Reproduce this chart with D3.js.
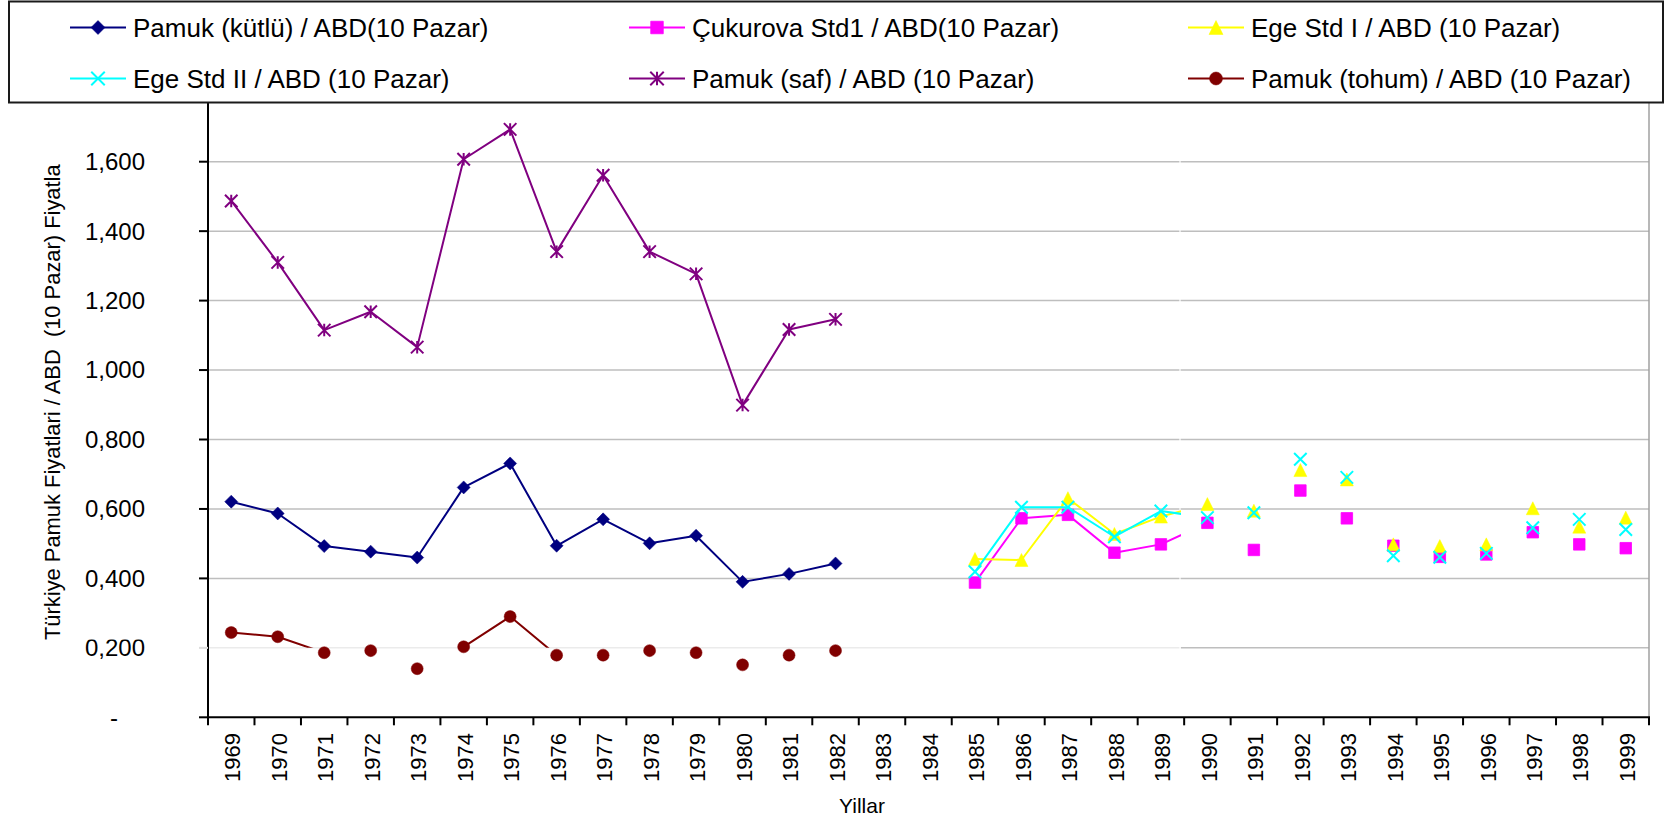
<!DOCTYPE html>
<html>
<head>
<meta charset="utf-8">
<script src="https://cdn.jsdelivr.net/npm/d3@7"></script>
<style>
  html, body { margin: 0; padding: 0; background: #fff; }
  svg { display: block; font-family: "Liberation Sans", Arial, sans-serif; }
  .keep-spaces { white-space: pre; }
</style>
</head>
<body>
<svg id="chart" width="1669" height="821"></svg>
<script>
// Years on the category axis
const years = ["1969","1970","1971","1972","1973","1974","1975","1976","1977","1978",
  "1979","1980","1981","1982","1983","1984","1985","1986","1987","1988","1989",
  "1990","1991","1992","1993","1994","1995","1996","1997","1998","1999"];

// Price ratios: Turkish cotton prices / USA (10 markets)
const pamukKutlu = [0.621,0.587,0.493,0.477,0.460,0.662,0.731,0.494,0.570,0.501,0.523,0.390,0.413,0.443,
  null,null,null,null,null,null,null,null,null,null,null,null,null,null,null,null,null];
const cukurovaStd1 = [null,null,null,null,null,null,null,null,null,null,null,null,null,null,null,null,
  0.388,0.573,0.583,0.474,0.498,0.560,0.482,0.653,0.573,0.494,0.462,0.469,0.533,0.498,0.487];
const egeStdI = [null,null,null,null,null,null,null,null,null,null,null,null,null,null,null,null,
  0.456,0.453,0.631,0.528,0.578,0.614,0.595,0.712,0.685,0.498,0.493,0.498,0.602,0.549,0.575];
const egeStdII = [null,null,null,null,null,null,null,null,null,null,null,null,null,null,null,null,
  0.419,0.605,0.605,0.520,0.594,0.575,0.589,0.743,0.691,0.465,0.461,0.472,0.546,0.570,0.541];
const pamukSaf = [1.487,1.310,1.115,1.168,1.066,1.607,1.693,1.341,1.561,1.341,1.277,0.899,1.117,1.146,
  null,null,null,null,null,null,null,null,null,null,null,null,null,null,null,null,null];
const pamukTohum = [0.244,0.232,0.186,0.192,0.140,0.203,0.290,0.179,0.179,0.192,0.186,0.151,0.179,0.192,
  null,null,null,null,null,null,null,null,null,null,null,null,null,null,null,null,null];

// Value axis ticks and their labels
const yTickValues = [0, 0.2, 0.4, 0.6, 0.8, 1.0, 1.2, 1.4, 1.6];
const yTickLabels = ["-", "0,200", "0,400", "0,600", "0,800", "1,000", "1,200", "1,400", "1,600"];

const seriesNames = [
  "Pamuk (kütlü) / ABD(10 Pazar)",
  "Çukurova Std1 / ABD(10 Pazar)",
  "Ege Std I / ABD (10 Pazar)",
  "Ege Std II / ABD (10 Pazar)",
  "Pamuk (saf) / ABD (10 Pazar)",
  "Pamuk (tohum) / ABD (10 Pazar)"
];

const series = [
  { name: seriesNames[0], values: pamukKutlu,   color: "#000080", marker: "diamond" },
  { name: seriesNames[1], values: cukurovaStd1, color: "#FF00FF", marker: "square" },
  { name: seriesNames[2], values: egeStdI,      color: "#FFFF00", marker: "triangle" },
  { name: seriesNames[3], values: egeStdII,     color: "#00FFFF", marker: "x" },
  { name: seriesNames[4], values: pamukSaf,     color: "#800080", marker: "star" },
  { name: seriesNames[5], values: pamukTohum,   color: "#800000", marker: "circle" }
];

const svg = d3.select("#chart");
const W = 1669, H = 821;
svg.append("rect").attr("width", W).attr("height", H).attr("fill", "#fff");

// Plot area
const plot = { left: 208, right: 1649, top: 103, bottom: 717.3 };
const splitX = 1181;   // series lines are drawn only left of this

const x = d3.scaleBand().domain(years).range([plot.left, plot.right]).padding(0);
const cx = yr => x(yr) + x.bandwidth() / 2;
const y = d3.scaleLinear().domain([0, 1.6]).range([plot.bottom, 161.7]);

// Horizontal gridlines
const grid = svg.append("g");
yTickValues.filter(v => v > 0).forEach(v => {
  if (Math.abs(v - 0.2) < 1e-9) {
    grid.append("line").attr("x1", plot.left - 9).attr("x2", splitX)
      .attr("y1", y(v)).attr("y2", y(v)).attr("stroke", "#ebebeb").attr("stroke-width", 1.5);
    grid.append("line").attr("x1", splitX).attr("x2", plot.right)
      .attr("y1", y(v)).attr("y2", y(v)).attr("stroke", "#bebebe").attr("stroke-width", 1.5);
  } else {
    grid.append("line").attr("x1", plot.left).attr("x2", plot.right)
      .attr("y1", y(v)).attr("y2", y(v)).attr("stroke", "#bebebe").attr("stroke-width", 1.5);
  }
});
// thin seam in the gridlines
grid.append("line").attr("x1", splitX - 1).attr("x2", splitX - 1)
  .attr("y1", plot.top + 2).attr("y2", plot.bottom - 2)
  .attr("stroke", "#fff").attr("stroke-width", 1.2);

// Right border of the plot area
svg.append("line").attr("x1", plot.right).attr("x2", plot.right)
  .attr("y1", plot.top).attr("y2", plot.bottom + 1)
  .attr("stroke", "#a0a0a0").attr("stroke-width", 1.5);

// Clip for the connecting lines
const defs = svg.append("defs");
defs.append("clipPath").attr("id", "lineClip").append("rect")
  .attr("x", plot.left).attr("y", plot.top)
  .attr("width", splitX - plot.left).attr("height", y(0.2) - plot.top);

// Marker shapes
function markerPath(type, s) {
  const h = s / 2;
  switch (type) {
    case "diamond": return `M0,${-h}L${h},0L0,${h}L${-h},0Z`;
    case "square": return `M${-h},${-h}H${h}V${h}H${-h}Z`;
    case "triangle": return `M0,${-h}L${h},${h}L${-h},${h}Z`;
    case "x": return `M${-h},${-h}L${h},${h}M${-h},${h}L${h},${-h}`;
    case "star": return `M${-h},${-h}L${h},${h}M${-h},${h}L${h},${-h}M0,${-h}V${h}`;
    case "circle": return d3.symbol(d3.symbolCircle, Math.PI * h * h)();
  }
}
function drawMarker(g, type, color, px, py, s) {
  const filled = !(type === "x" || type === "star");
  g.append("path").attr("d", markerPath(type, s))
    .attr("transform", `translate(${px},${py})`)
    .attr("fill", filled ? color : "none")
    .attr("stroke", color)
    .attr("stroke-width", filled ? (type === "square" ? 0.8 : 0.5) : 2);
}
const markerSize = { diamond: 13, square: 11.5, triangle: 13, x: 12.5, star: 12.5, circle: 12 };

const lineGen = d3.line()
  .defined(d => d.v != null)
  .x(d => cx(d.year))
  .y(d => y(d.v));

const seriesG = svg.append("g");
series.forEach(s => {
  const pts = years.map((yr, i) => ({ year: yr, v: s.values[i] }));
  const g = seriesG.append("g");
  g.append("path").datum(pts)
    .attr("d", lineGen)
    .attr("fill", "none")
    .attr("stroke", s.color)
    .attr("stroke-width", 2)
    .attr("stroke-linejoin", "round")
    .attr("clip-path", "url(#lineClip)");
  pts.filter(d => d.v != null).forEach(d => {
    drawMarker(g, s.marker, s.color, cx(d.year), y(d.v), markerSize[s.marker]);
  });
});

// Value axis
const yAxisG = svg.append("g");
yAxisG.append("line").attr("x1", plot.left).attr("x2", plot.left)
  .attr("y1", plot.top).attr("y2", plot.bottom + 1)
  .attr("stroke", "#000").attr("stroke-width", 2);
yTickValues.forEach((v, i) => {
  yAxisG.append("line").attr("x1", plot.left - 9).attr("x2", plot.left)
    .attr("y1", y(v)).attr("y2", y(v))
    .attr("stroke", Math.abs(v - 0.2) < 1e-9 ? "#dcdcdc" : "#000")
    .attr("stroke-width", 2);
  yAxisG.append("text")
    .attr("x", v === 0 ? 114 : 145)
    .attr("y", y(v))
    .attr("dy", "0.35em")
    .attr("text-anchor", v === 0 ? "middle" : "end")
    .attr("font-size", 24)
    .attr("fill", "#000")
    .text(yTickLabels[i]);
});
// light streak across the top of the 0,200 label
yAxisG.append("line").attr("x1", 84).attr("x2", 150)
  .attr("y1", y(0.2) - 9).attr("y2", y(0.2) - 9)
  .attr("stroke", "#fff").attr("stroke-width", 1.5);

// Category axis
const xAxisG = svg.append("g");
xAxisG.append("line").attr("x1", plot.left - 1).attr("x2", plot.right + 1)
  .attr("y1", plot.bottom).attr("y2", plot.bottom)
  .attr("stroke", "#000").attr("stroke-width", 2);
years.forEach((yr, i) => {
  xAxisG.append("line").attr("x1", x(yr)).attr("x2", x(yr))
    .attr("y1", plot.bottom).attr("y2", plot.bottom + 8)
    .attr("stroke", "#000").attr("stroke-width", 2);
});
xAxisG.append("line").attr("x1", plot.right).attr("x2", plot.right)
  .attr("y1", plot.bottom).attr("y2", plot.bottom + 8)
  .attr("stroke", "#000").attr("stroke-width", 2);
years.forEach(yr => {
  const tx = cx(yr) + 1.5, ty = 733;
  xAxisG.append("text")
    .attr("transform", `translate(${tx},${ty}) rotate(-90)`)
    .attr("text-anchor", "end")
    .attr("dy", "0.35em")
    .attr("font-size", 22)
    .attr("fill", "#000")
    .text(yr);
});

// Axis titles
svg.append("text")
  .attr("class", "keep-spaces")
  .attr("transform", `translate(60,640) rotate(-90)`)
  .attr("text-anchor", "start")
  .attr("font-size", 21.9)
  .attr("fill", "#000")
  .text("Türkiye Pamuk Fiyatlari / ABD  (10 Pazar) Fiyatla");
svg.append("text")
  .attr("x", 862).attr("y", 813)
  .attr("text-anchor", "middle")
  .attr("font-size", 21)
  .attr("fill", "#000")
  .text("Yillar");

// Legend
const legend = svg.append("g");
legend.append("rect").attr("x", 9).attr("y", 1.5).attr("width", 1654).attr("height", 101)
  .attr("fill", "#fff").attr("stroke", "#1a1a1a").attr("stroke-width", 2);
const colX = [98, 657, 1216];
const rowY = [27.5, 78.5];
series.forEach((s, i) => {
  const mx = colX[i % 3], my = rowY[Math.floor(i / 3)];
  legend.append("line").attr("x1", mx - 28).attr("x2", mx + 28)
    .attr("y1", my).attr("y2", my)
    .attr("stroke", s.color).attr("stroke-width", 2);
  drawMarker(legend, s.marker, s.color, mx, my, markerSize[s.marker] + 1);
  legend.append("text")
    .attr("x", mx + 35).attr("y", my + 9)
    .attr("font-size", 26)
    .attr("fill", "#000")
    .text(s.name);
});
</script>
</body>
</html>
